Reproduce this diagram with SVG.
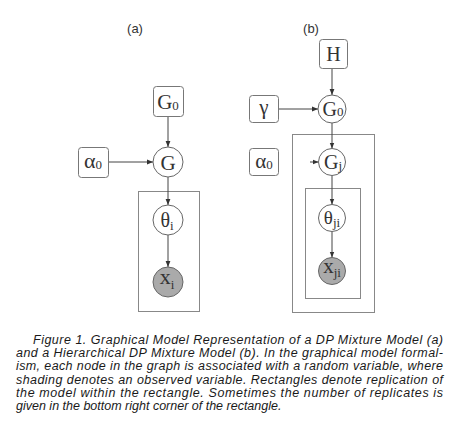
<svg xmlns="http://www.w3.org/2000/svg" width="457" height="439" viewBox="0 0 457 439">
<defs>
<marker id="ah" viewBox="0 0 10 10" refX="10" refY="5" markerWidth="6" markerHeight="6" markerUnits="userSpaceOnUse" orient="auto">
<path d="M0,1 L10,5 L0,9 z" fill="#333"/>
</marker>
<style>
.box{fill:#fff;stroke:#777;stroke-width:1}
.node{fill:#fff;stroke:#666;stroke-width:1}
.obs{fill:#aaa;stroke:#666;stroke-width:1}
.plate{fill:none;stroke:#888;stroke-width:1}
.edge{stroke:#444;stroke-width:1;fill:none;marker-end:url(#ah)}
.lbl{font-family:"Liberation Serif","Times New Roman",serif;fill:#333;text-anchor:middle}
.sub{font-size:13px}
.panel{font-family:"Liberation Sans",Arial,sans-serif;font-size:13px;fill:#333;text-anchor:middle}
.cap{font-family:"Liberation Sans",Arial,sans-serif;font-size:12.5px;font-style:italic;fill:#1a1a1a}
</style>
</defs>
<rect width="457" height="439" fill="#fff"/>

<text class="panel" x="135" y="33">(a)</text>
<text class="panel" x="311" y="33">(b)</text>

<g id="plates">
<rect class="plate" x="138.5" y="191.5" width="61" height="120"/>
<rect class="plate" x="292.5" y="134.5" width="82" height="178"/>
<rect class="plate" x="305.5" y="188.5" width="55" height="110"/>
</g>

<g id="connectors">
<line class="edge" x1="168" y1="116" x2="168" y2="147"/>
<line class="edge" x1="108" y1="162" x2="153" y2="162"/>
<line class="edge" x1="168" y1="177" x2="168" y2="205"/>
<line class="edge" x1="168" y1="235" x2="168" y2="267"/>
<line class="edge" x1="332" y1="68" x2="332" y2="95"/>
<line class="edge" x1="278" y1="109" x2="318" y2="109"/>
<line class="edge" x1="332" y1="123" x2="332" y2="148.5"/>
<line class="edge" x1="310" y1="162" x2="318.5" y2="162"/>
<line class="edge" x1="332" y1="175.5" x2="332" y2="204.5"/>
<line class="edge" x1="332" y1="231.5" x2="332" y2="257.5"/>
</g>

<g id="a-G0">
<rect class="box" x="153.5" y="86.5" width="30" height="30" rx="3"/>
<text class="lbl" x="168" y="108.5" font-size="21">G<tspan class="sub" dy="1">0</tspan></text>
</g>
<g id="a-alpha0">
<rect class="box" x="78.5" y="147.5" width="30" height="30" rx="3"/>
<text class="lbl" x="93" y="168" font-size="22">α<tspan class="sub" dy="1">0</tspan></text>
</g>
<g id="a-G">
<circle class="node" cx="168" cy="162" r="15"/>
<text class="lbl" x="168" y="169.5" font-size="21">G</text>
</g>
<g id="a-theta">
<circle class="node" cx="168" cy="220" r="15"/>
<text class="lbl" x="167" y="226.5" font-size="20">θ<tspan class="sub" dy="3">i</tspan></text>
</g>
<g id="a-x">
<circle class="obs" cx="168" cy="282" r="15"/>
<text class="lbl" x="167" y="284" font-size="22">x<tspan class="sub" dy="5">i</tspan></text>
</g>

<g id="b-H">
<rect class="box" x="319.5" y="39.5" width="28" height="29" rx="3"/>
<text class="lbl" x="333.5" y="61" font-size="20">H</text>
</g>
<g id="b-gamma">
<rect class="box" x="249.5" y="95.5" width="29" height="27" rx="3"/>
<text class="lbl" x="264" y="114" font-size="21">γ</text>
</g>
<g id="b-G0">
<circle class="node" cx="332" cy="109" r="14"/>
<text class="lbl" x="333" y="116" font-size="20">G<tspan class="sub" dy="0">0</tspan></text>
</g>
<g id="b-alpha0">
<rect class="box" x="249.5" y="148.5" width="29" height="27" rx="3"/>
<text class="lbl" x="264" y="167.5" font-size="21">α<tspan class="sub" dy="1">0</tspan></text>
</g>
<g id="b-Gj">
<circle class="node" cx="332" cy="162" r="13.5"/>
<text class="lbl" x="333" y="168.5" font-size="20">G<tspan class="sub" dy="1">j</tspan></text>
</g>
<g id="b-theta">
<circle class="node" cx="332" cy="218" r="13.5"/>
<text class="lbl" x="332" y="224" font-size="19">θ<tspan class="sub" dy="3">ji</tspan></text>
</g>
<g id="b-x">
<circle class="obs" cx="332" cy="271" r="13.5"/>
<text class="lbl" x="332" y="273" font-size="21">x<tspan class="sub" dy="4">ji</tspan></text>
</g>

<g id="caption">
<text class="cap" x="33" y="344" textLength="410" lengthAdjust="spacing">Figure 1.  Graphical Model Representation of a DP Mixture Model (a)</text>
<text class="cap" x="16" y="357.2" textLength="427" lengthAdjust="spacing">and a Hierarchical DP Mixture Model (b). In the graphical model formal-</text>
<text class="cap" x="16" y="370.4" textLength="427" lengthAdjust="spacing">ism, each node in the graph is associated with a random variable, where</text>
<text class="cap" x="16" y="383.6" textLength="427" lengthAdjust="spacing">shading denotes an observed variable. Rectangles denote replication of</text>
<text class="cap" x="16" y="396.8" textLength="427" lengthAdjust="spacing">the model within the rectangle. Sometimes the number of replicates is</text>
<text class="cap" x="16" y="410">given in the bottom right corner of the rectangle.</text>
</g>
</svg>
